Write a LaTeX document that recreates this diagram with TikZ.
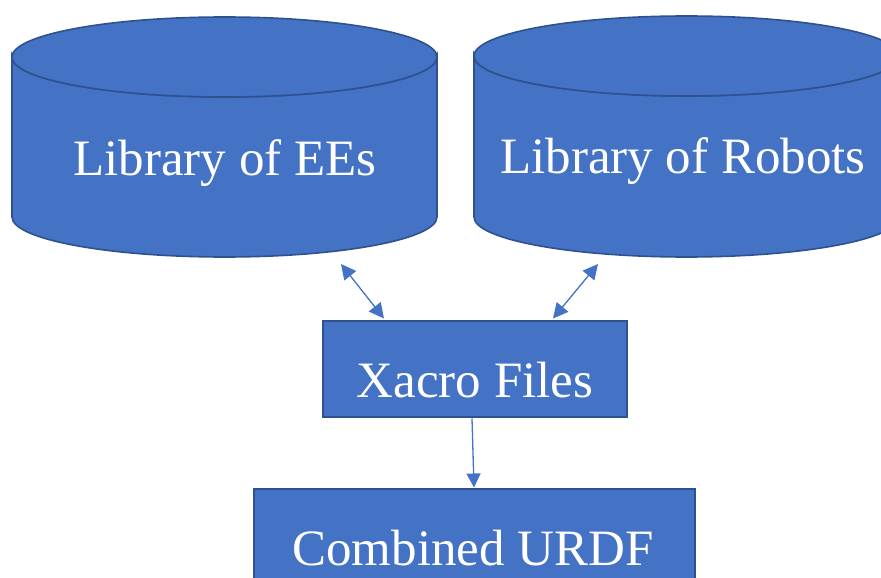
\documentclass[tikz,border=0pt]{standalone}
\usepackage{fontspec}
\setmainfont{Liberation Serif}
\usetikzlibrary{arrows.meta}
\definecolor{boxfill}{HTML}{4472C4}
\definecolor{boxline}{HTML}{2F528F}
\tikzset{
  cylface/.style={fill=boxfill, draw=boxline, line width=1.6pt},
  blockbox/.style={fill=boxfill, draw=boxline, line width=2pt},
  bigtext/.style={text=white, font=\fontsize{51}{55}\selectfont, anchor=base, inner sep=0pt},
  link/.style={draw=boxfill, line width=1.3pt},
}
\begin{document}
\begin{tikzpicture}[x=1pt,y=-1pt]
  \useasboundingbox (0,0) rectangle (881,578);
  \clip (0,0) rectangle (881,578);

  % left database cylinder
  \path[cylface] (12,57) -- (12,217)
     arc[start angle=180, end angle=0, x radius=212.5, y radius=40]
     -- (437,57)
     arc[start angle=0, end angle=180, x radius=212.5, y radius=40] -- cycle;
  \draw[cylface] (224.5,57) ellipse[x radius=212.5, y radius=40];
  \node[bigtext] (ees) at (225,175) {Library of EEs};

  % right database cylinder
  \path[cylface] (474,56) -- (474,217)
     arc[start angle=180, end angle=0, x radius=212.5, y radius=40]
     -- (899,56)
     arc[start angle=0, end angle=180, x radius=212.5, y radius=40] -- cycle;
  \draw[cylface] (686.5,56) ellipse[x radius=212.5, y radius=40];
  \node[bigtext] (robots) at (683,173) {Library of Robots};

  % process boxes
  \node[blockbox, minimum width=304pt, minimum height=96pt, inner sep=0pt] (xacro) at (474.7,368.5) {};
  \node[bigtext] (xacrotxt) at (475,397) {Xacro Files};
  \node[blockbox, minimum width=441pt, minimum height=130pt, inner sep=0pt, anchor=north west] (urdf) at (252.7,488) {};
  \node[bigtext] (urdftxt) at (473,565) {Combined URDF};

  % connector ends
  \coordinate (eesport) at (341,264);
  \coordinate (xacroleft) at (384,318.5);
  \coordinate (robotsport) at (598,264);
  \coordinate (xacroright) at (553,318.5);
  \coordinate (xacrobottom) at (472,418.5);
  \coordinate (urdftop) at (474,487.5);

  \draw[link, {Triangle[length=15pt,width=15pt]}-{Triangle[length=15pt,width=15pt]}] (eesport) -- (xacroleft);
  \draw[link, {Triangle[length=15pt,width=15pt]}-{Triangle[length=15pt,width=15pt]}] (robotsport) -- (xacroright);
  \draw[link, -{Triangle[length=14pt,width=14pt]}] (xacrobottom) -- (urdftop);
\end{tikzpicture}
\end{document}
